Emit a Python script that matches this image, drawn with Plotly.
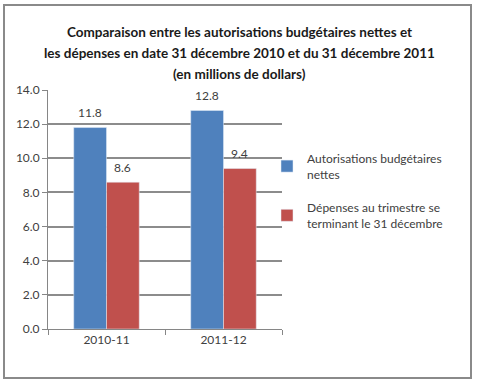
import plotly.graph_objects as go

categories = ["2010-11", "2011-12"]
autorisations = [11.8, 12.8]
depenses = [8.6, 9.4]
series_names = ["Autorisations budgétaires<br>nettes", "Dépenses au trimestre se<br>terminant le 31 décembre"]
colors = ["#4F81BD", "#C0504D"]
title_lines = ["Comparaison entre les autorisations budgétaires nettes et",
               "les dépenses en date 31 décembre 2010 et du 31 décembre 2011",
               "(en millions de dollars)"]

W, H = 480, 386
L, R, T, B = 48, 198, 90, 57
pw, ph = W - L - R, H - T - B

def px(x):
    return (x - L) / pw

def py(y):
    return (H - B - y) / ph

font = "Lato, 'Open Sans', sans-serif"
fig = go.Figure()
for i, (vals, name, col) in enumerate(zip([autorisations, depenses], series_names, colors)):
    fig.add_trace(go.Bar(
        x=categories, y=vals, name=name, marker_color=col, legendgroup=f"g{i}",
        hoverinfo="x+y",
    ))

# data labels via the axes (offset to each bar of the group)
bar_half = pw / len(categories) * (1 - 0.44) / 4
for vals, sh in zip([autorisations, depenses], [-bar_half, bar_half]):
    for c, v in zip(categories, vals):
        fig.add_annotation(x=c, y=v, text=f"{v:.1f}", xref="x", yref="y",
                           showarrow=False, xshift=sh, yshift=15,
                           yanchor="middle", xanchor="center",
                           font=dict(size=12, color="#404040", family=font))

fig.update_layout(
    width=W, height=H,
    margin=dict(l=L, r=R, t=T, b=B),
    paper_bgcolor="white", plot_bgcolor="white",
    barmode="group", bargap=0.44, bargroupgap=0,
    font=dict(family=font, size=12, color="#404040"),
    legend=dict(x=px(267), xanchor="left", y=py(144), yanchor="top",
                font=dict(size=12, color="#404040", family=font),
                tracegroupgap=15, itemwidth=30, bgcolor="rgba(0,0,0,0)"),
    showlegend=True,
)
for line, yy in zip(title_lines, [32, 53, 74]):
    fig.add_annotation(text=f"<b>{line}</b>", xref="paper", yref="paper",
                       x=px(239), y=py(yy), xanchor="center", yanchor="middle",
                       showarrow=False, font=dict(size=13.5, color="#1a1a1a", family=font))

fig.update_xaxes(type="category", showline=True, linecolor="#868686", linewidth=1,
                 ticks="outside", tickson="boundaries", ticklen=5, tickcolor="#868686",
                 tickfont=dict(size=12, color="#404040"), showgrid=False)
fig.update_yaxes(range=[0, 14], dtick=2, tickformat=".1f",
                 showline=True, linecolor="#868686", linewidth=1,
                 ticks="outside", ticklen=5, tickcolor="#868686",
                 showgrid=True, gridcolor="#8c8c8c", gridwidth=2,
                 tickfont=dict(size=12, color="#404040"), zeroline=False)

fig.add_shape(type="rect", xref="paper", yref="paper",
              x0=px(4), x1=px(471), y0=py(378), y1=py(5),
              line=dict(color="#8a8a8a", width=2), fillcolor="rgba(0,0,0,0)", layer="below")

fig.write_html("out.html", config={"displayModeBar": False},
               post_script="document.body.style.margin='0';")
